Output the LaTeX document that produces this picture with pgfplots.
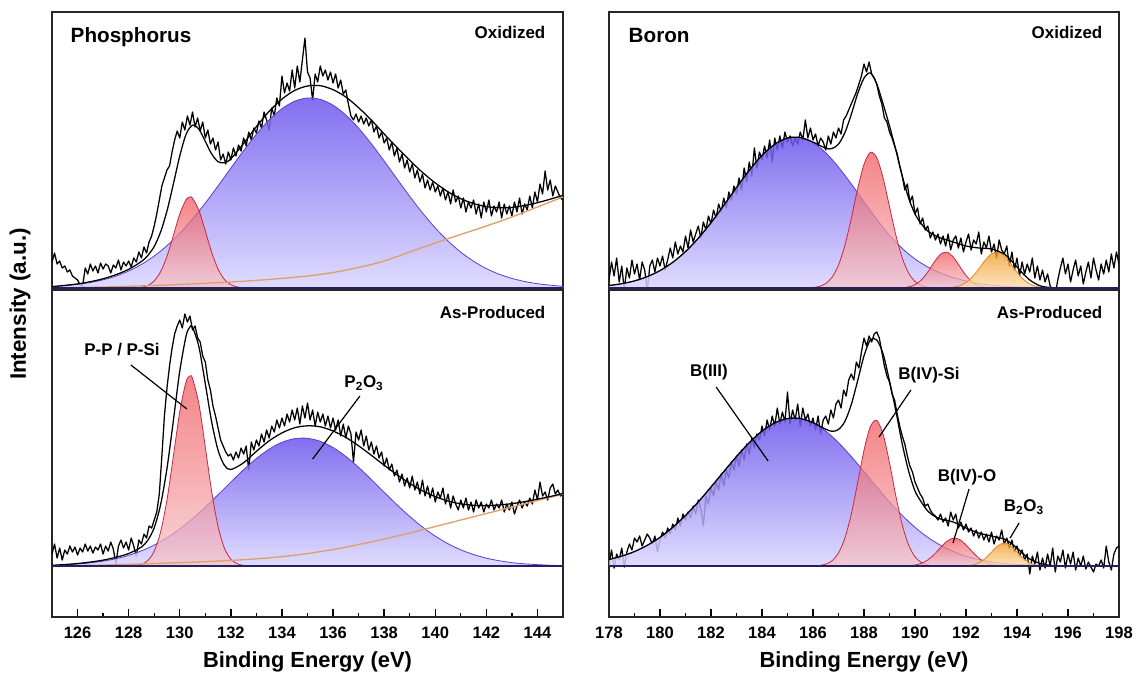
\documentclass[border=0pt]{standalone}
\usepackage{pgfplots}
\pgfplotsset{compat=1.18}
\usepackage{fontspec}
\setmainfont{Liberation Sans}
\definecolor{blueTop}{RGB}{108,86,236}
\definecolor{blueBot}{RGB}{218,214,255}
\definecolor{blueLine}{RGB}{90,60,210}
\definecolor{redTop}{RGB}{240,84,88}
\definecolor{redBot}{RGB}{246,196,200}
\definecolor{redLine}{RGB}{200,40,68}
\definecolor{orTop}{RGB}{242,158,45}
\definecolor{orBot}{RGB}{250,222,175}
\definecolor{orLine}{RGB}{222,136,40}
\definecolor{bgLine}{RGB}{222,160,105}
\definecolor{baseCol}{RGB}{38,30,95}
\pgfplotsset{
  xpsbase/.style={
    scale only axis,
    axis line style={line width=1pt, black!85},
    ticklabel style={font=\bfseries\fontsize{12.4}{14}\selectfont},
    xticklabel style={yshift=-4pt},
    /pgf/number format/assume math mode=true,
    ytick=\empty,
  },
  toppanel/.style={xpsbase, height=208.5pt, ymin=-2, ymax=276, xtick=\empty},
  botpanel/.style={xpsbase, height=245.25pt, ymin=-51, ymax=276, xtick pos=left,
    major tick length=6pt, minor tick length=3pt, minor x tick num=1,
    tick style={line width=1pt, black},
    xlabel style={font=\bfseries\fontsize{16.4}{19}\selectfont, at={(axis description cs:0.5,0)}, anchor=base, yshift=-37.5pt}},
  dat/.style={black, line width=0.95pt, line join=round},
  env/.style={black, line width=0.95pt, smooth},
  bgl/.style={bgLine, line width=1pt, smooth},
  cblue/.style={smooth, draw=blueLine, line width=0.6pt, top color=blueTop, bottom color=blueBot, fill opacity=0.85},
  cred/.style={smooth, draw=redLine, line width=0.6pt, top color=redTop, bottom color=redBot, fill opacity=0.72},
  cor/.style={smooth, draw=orLine, line width=0.6pt, top color=orTop, bottom color=orBot, fill opacity=0.8},
  basel/.style={baseCol, line width=1.6pt},
}
\newcommand{\lab}{\bfseries\fontsize{12.7}{15}\selectfont}
\begin{document}
\begin{tikzpicture}
\useasboundingbox (0,0) rectangle (852pt,-504.75pt);
% ================= Phosphorus oxidized =================
\begin{axis}[toppanel, at={(39pt,-9pt)}, anchor=north west, width=383.25pt, xmin=125, xmax=145]
\addplot[dat] coordinates {
(125.0,26)(125.1,35)(125.2,24)(125.3,27)(125.4,20)(125.5,22)(125.6,16)(125.7,18)(125.8,12)(125.9,10)
(126.0,8)(126.1,3)(126.2,2)(126.3,20)(126.4,14)(126.5,24)(126.6,17)(126.7,22)(126.8,15)(126.9,25)
(127.0,19)(127.1,24)(127.2,22)(127.3,15)(127.4,23)(127.5,20)(127.6,28)(127.7,18)(127.8,26)(127.9,22)
(128.0,27)(128.1,21)(128.2,30)(128.3,26)(128.4,36)(128.5,30)(128.6,41)(128.7,35)(128.8,46)(128.9,52)
(129.0,62)(129.1,74)(129.2,88)(129.3,102)(129.4,110)(129.5,118)(129.6,122)(129.7,136)(129.8,148)(129.9,157)
(130.0,150)(130.1,166)(130.2,158)(130.3,172)(130.4,163)(130.5,176)(130.6,161)(130.7,170)(130.8,157)(130.9,166)
(131.0,150)(131.1,158)(131.2,144)(131.3,150)(131.4,138)(131.5,146)(131.6,128)(131.7,134)(131.8,124)(131.9,136)
(132.0,128)(132.1,140)(132.2,132)(132.3,143)(132.4,137)(132.5,150)(132.6,142)(132.7,156)(132.8,148)(132.9,160)
(133.0,155)(133.1,167)(133.2,160)(133.3,176)(133.4,168)(133.5,158)(133.6,180)(133.7,172)(133.8,190)(133.9,182)
(134.0,212)(134.1,195)(134.2,205)(134.3,197)(134.4,218)(134.5,200)(134.6,222)(134.7,206)(134.8,228)(134.9,250)
(135.0,216)(135.1,210)(135.2,188)(135.3,214)(135.4,206)(135.5,222)(135.6,212)(135.7,218)(135.8,208)(135.9,216)
(136.0,205)(136.1,214)(136.2,200)(136.3,208)(136.4,194)(136.5,198)(136.6,184)(136.7,172)(136.8,168)(136.9,174)
(137.0,166)(137.1,172)(137.2,164)(137.3,170)(137.4,162)(137.5,168)(137.6,156)(137.7,162)(137.8,150)(137.9,156)
(138.0,145)(138.1,150)(138.2,138)(138.3,146)(138.4,132)(138.5,140)(138.6,126)(138.7,134)(138.8,120)(138.9,128)
(139.0,116)(139.1,124)(139.2,110)(139.3,118)(139.4,106)(139.5,114)(139.6,100)(139.7,108)(139.8,98)(139.9,106)
(140.0,96)(140.1,102)(140.2,92)(140.3,100)(140.4,88)(140.5,96)(140.6,84)(140.7,98)(140.8,86)(140.9,92)
(141.0,80)(141.1,90)(141.2,76)(141.3,86)(141.4,80)(141.5,88)(141.6,74)(141.7,84)(141.8,70)(141.9,86)
(142.0,76)(142.1,88)(142.2,72)(142.3,82)(142.4,76)(142.5,86)(142.6,70)(142.7,84)(142.8,74)(142.9,82)
(143.0,72)(143.1,86)(143.2,76)(143.3,90)(143.4,74)(143.5,84)(143.6,78)(143.7,92)(143.8,80)(143.9,96)
(144.0,86)(144.1,104)(144.2,94)(144.3,117)(144.4,98)(144.5,108)(144.6,92)(144.7,102)(144.8,96)(144.9,90)(145.0,88)};
\addplot[cblue] coordinates {(125,1.4)(125.5,2.3)(126,3.6)(126.5,5.5)(127,8.2)(127.5,11.9)(128,17)(128.5,23.6)(129,31.9)(129.5,42.3)(130,54.6)(130.5,68.9)(131,84.9)(131.5,102.1)(132,119.9)(132.5,137.4)(133,153.8)(133.5,168.1)(134,179.3)(134.5,186.8)(135,190)(135.5,188.6)(136,182.8)(136.5,173)(137,159.8)(137.5,144.2)(138,127)(138.5,109.2)(139,91.7)(139.5,75.1)(140,60.1)(140.5,47)(141,35.8)(141.5,26.7)(142,19.4)(142.5,13.8)(143,9.6)(143.5,6.5)(144,4.3)(144.5,2.8)(145,1.7)} \closedcycle;
\addplot[cred] coordinates {(128,0)(128.25,0.2)(128.5,0.8)(128.75,2.6)(129,7.1)(129.25,16.3)(129.5,31.7)(129.75,52.5)(130,73.9)(130.25,88.4)(130.4,91)(130.5,89.8)(130.75,77.6)(131,57)(131.25,35.6)(131.5,18.9)(131.75,8.5)(132,3.3)(132.25,1.1)(132.5,0.3)(133,0)} \closedcycle;
\addplot[bgl] coordinates {(125,0)(126,0.5)(127,1)(128,1.7)(129,2.5)(130,3.5)(131,4.7)(132,6)(133,7.6)(134,9.6)(135,12)(136,15.5)(137,20.5)(138,27)(139,36)(140,45)(141,53.5)(142,62)(143,71)(144,81)(145,91)};
\addplot[env] coordinates {(125,1.4)(125.5,2.6)(126,4.1)(126.5,6.3)(127,9.2)(127.5,13.3)(128,18.7)(128.5,26.5)(128.75,32.5)(129,41.5)(129.25,56)(129.5,77)(129.75,104)(130,132)(130.25,153.8)(130.5,162.8)(130.75,158.8)(131,146.6)(131.25,134)(131.5,126.3)(131.75,125.2)(132,129.2)(132.5,144.5)(133,161.4)(133.5,176.7)(134,188.9)(134.5,197.6)(135,202)(135.5,202.3)(136,198.3)(136.5,191)(137,180.3)(137.5,167.9)(138,154)(138.5,140.7)(139,127.7)(139.5,115.6)(140,105.1)(140.5,96.2)(141,89.3)(141.5,84.4)(142,81.4)(142.5,80.3)(143,80.6)(143.5,82.5)(144,85.3)(144.5,88.8)(145,92.7)};
\addplot[basel] coordinates {(125,0)(145,0)};
\node[anchor=base west, font=\bfseries\fontsize{15.5}{18}\selectfont] at (axis description cs:0.0274,0.892) {Phosphorus};
\node[anchor=base east, font=\lab] at (axis description cs:0.9746,0.903) {Oxidized};
\end{axis}
% ================= Phosphorus as-produced =================
\begin{axis}[botpanel, at={(39pt,-217.5pt)}, anchor=north west, width=383.25pt, xmin=125, xmax=145,
  xtick={126,128,...,144}, xlabel={Binding Energy (eV)}]
\addplot[dat] coordinates {
(125.0,12)(125.1,22)(125.2,8)(125.3,18)(125.4,6)(125.5,16)(125.6,12)(125.7,20)(125.8,14)(125.9,19)
(126.0,11)(126.1,18)(126.2,14)(126.3,22)(126.4,15)(126.5,20)(126.6,13)(126.7,19)(126.8,16)(126.9,22)
(127.0,12)(127.1,20)(127.2,15)(127.3,24)(127.4,17)(127.5,2)(127.6,20)(127.7,26)(127.8,18)(127.9,24)
(128.0,16)(128.1,28)(128.2,20)(128.3,10)(128.4,26)(128.5,22)(128.6,32)(128.7,28)(128.8,40)(128.9,38)
(129.0,46)(129.1,54)(129.2,72)(129.3,110)(129.4,150)(129.5,178)(129.6,200)(129.7,218)(129.8,232)(129.9,240)
(130.0,246)(130.1,238)(130.2,252)(130.3,244)(130.4,250)(130.5,236)(130.6,240)(130.7,228)(130.8,224)(130.9,210)
(131.0,204)(131.1,186)(131.2,176)(131.3,160)(131.4,150)(131.5,138)(131.6,126)(131.7,120)(131.8,114)(131.9,110)
(132.0,112)(132.1,106)(132.2,114)(132.3,108)(132.4,118)(132.5,112)(132.6,120)(132.7,96)(132.8,124)(132.9,116)
(133.0,126)(133.1,120)(133.2,132)(133.3,124)(133.4,136)(133.5,128)(133.6,140)(133.7,134)(133.8,146)(133.9,138)
(134.0,148)(134.1,140)(134.2,152)(134.3,144)(134.4,156)(134.5,146)(134.6,158)(134.7,142)(134.8,160)(134.9,148)
(135.0,163)(135.1,146)(135.2,156)(135.3,140)(135.4,154)(135.5,144)(135.6,152)(135.7,140)(135.8,150)(135.9,138)
(136.0,148)(136.1,136)(136.2,146)(136.3,130)(136.4,142)(136.5,128)(136.6,140)(136.7,132)(136.8,104)(136.9,134)
(137.0,126)(137.1,136)(137.2,120)(137.3,130)(137.4,116)(137.5,124)(137.6,112)(137.7,120)(137.8,108)(137.9,114)
(138.0,100)(138.1,108)(138.2,96)(138.3,102)(138.4,90)(138.5,96)(138.6,84)(138.7,92)(138.8,80)(138.9,88)
(139.0,78)(139.1,90)(139.2,76)(139.3,84)(139.4,72)(139.5,86)(139.6,70)(139.7,80)(139.8,68)(139.9,78)
(140.0,64)(140.1,74)(140.2,68)(140.3,78)(140.4,62)(140.5,72)(140.6,58)(140.7,70)(140.8,62)(140.9,56)
(141.0,66)(141.1,58)(141.2,68)(141.3,56)(141.4,64)(141.5,54)(141.6,66)(141.7,58)(141.8,64)(141.9,54)
(142.0,62)(142.1,58)(142.2,66)(142.3,56)(142.4,62)(142.5,58)(142.6,66)(142.7,54)(142.8,62)(142.9,56)
(143.0,64)(143.1,52)(143.2,60)(143.3,66)(143.4,58)(143.5,64)(143.6,60)(143.7,68)(143.8,62)(143.9,76)
(144.0,66)(144.1,84)(144.2,70)(144.3,74)(144.4,66)(144.5,78)(144.6,82)(144.7,72)(144.8,76)(144.9,70)(145.0,72)};
\addplot[cblue] coordinates {(125,0.7)(125.5,1.2)(126,2)(126.5,3.2)(127,4.9)(127.5,7.3)(128,10.7)(128.5,15.2)(129,21)(129.5,28.3)(130,37.1)(130.5,47.4)(131,58.9)(131.5,71.3)(132,84)(132.5,96.3)(133,107.5)(133.5,116.9)(134,123.7)(134.5,127.4)(135,127.7)(135.5,124.7)(136,118.5)(136.5,109.6)(137,98.7)(137.5,86.5)(138,73.8)(138.5,61.3)(139,49.6)(139.5,39)(140,29.9)(140.5,22.3)(141,16.2)(141.5,11.5)(142,7.9)(142.5,5.3)(143,3.4)(143.5,2.2)(144,1.4)(144.5,0.8)(145,0.5)} \closedcycle;
\addplot[cred] coordinates {(128,0.1)(128.25,0.5)(128.5,1.7)(128.75,5.5)(129,14.8)(129.25,34)(129.5,66.2)(129.75,109.6)(130,154.3)(130.25,184.6)(130.4,190)(130.5,187.5)(130.75,162)(131,119)(131.25,74.3)(131.5,39.5)(131.75,17.7)(132,6.9)(132.25,2.3)(132.5,0.6)(132.75,0.2)(133,0)} \closedcycle;
\addplot[bgl] coordinates {(125,0)(126,0.5)(127,1)(128,1.7)(129,2.5)(130,3.4)(131,4.4)(132,5.6)(133,7.2)(134,9.4)(135,12.5)(136,16.5)(137,21.5)(138,27)(139,33)(140,39.5)(141,46)(142,52.5)(143,59)(144,65.5)(145,72)};
\addplot[env] coordinates {(125,0.7)(125.5,1.5)(126,2.5)(126.5,4)(127,5.9)(127.5,8.7)(128,12.5)(128.5,19)(128.75,25.8)(129,38.3)(129.25,61.3)(129.5,97.5)(129.75,145.4)(130,194.8)(130.25,230.3)(130.4,239.1)(130.5,238.8)(130.75,219.2)(131,182.3)(131.25,144)(131.5,115.8)(131.75,100.6)(132,96.5)(132.5,103.3)(133,114.7)(133.5,125.2)(134,133.1)(134.5,138.3)(135,140.2)(135.5,139.2)(136,135)(136.5,128.6)(137,120.2)(137.5,110.7)(138,100.8)(138.5,91.3)(139,82.6)(139.5,75.2)(140,69.4)(140.5,65)(141,62.2)(141.5,60.7)(142,60.4)(142.5,61)(143,62.4)(143.5,64.4)(144,66.9)(144.5,69.5)(145,72.5)};
\addplot[basel] coordinates {(125,0)(145,0)};
\node[anchor=base east, font=\lab] at (axis description cs:0.9746,0.914) {As-Produced};
\node[font=\lab] at (axis cs:127.74,216) {P-P / P-Si};
\draw[line width=0.9pt] (axis cs:128.09,201) -- (axis cs:130.28,157);
\node[font=\lab] at (axis cs:137.21,183) {P\textsubscript{2}O\textsubscript{3}};
\draw[line width=0.9pt] (axis cs:137.05,170) -- (axis cs:135.2,107);
\end{axis}
% ================= Boron oxidized =================
\begin{axis}[toppanel, at={(456.75pt,-9pt)}, anchor=north west, width=382.5pt, xmin=178, xmax=198]
\addplot[dat] coordinates {
(178.0,8)(178.1,26)(178.2,12)(178.3,30)(178.4,6)(178.5,22)(178.6,-2)(178.7,20)(178.8,10)(178.9,28)
(179.0,14)(179.1,24)(179.2,8)(179.3,26)(179.4,18)(179.5,-3)(179.6,22)(179.7,28)(179.8,16)(179.9,30)
(180.0,22)(180.1,32)(180.2,18)(180.3,28)(180.4,40)(180.5,30)(180.6,46)(180.7,34)(180.8,42)(180.9,36)
(181.0,52)(181.1,40)(181.2,58)(181.3,46)(181.4,54)(181.5,62)(181.6,50)(181.7,66)(181.8,58)(181.9,72)
(182.0,64)(182.1,78)(182.2,70)(182.3,84)(182.4,76)(182.5,90)(182.6,80)(182.7,96)(182.8,88)(182.9,102)
(183.0,94)(183.1,110)(183.2,98)(183.3,120)(183.4,106)(183.5,126)(183.6,112)(183.7,140)(183.8,120)(183.9,136)
(184.0,128)(184.1,142)(184.2,130)(184.3,148)(184.4,126)(184.5,150)(184.6,138)(184.7,152)(184.8,140)(184.9,156)
(185.0,146)(185.1,152)(185.2,142)(185.3,150)(185.4,144)(185.5,156)(185.6,148)(185.7,168)(185.8,150)(185.9,160)
(186.0,148)(186.1,154)(186.2,142)(186.3,150)(186.4,146)(186.5,138)(186.6,152)(186.7,144)(186.8,156)(186.9,150)
(187.0,160)(187.1,154)(187.2,168)(187.3,172)(187.4,178)(187.5,184)(187.6,190)(187.7,196)(187.8,204)(187.9,212)
(188.0,224)(188.1,216)(188.2,226)(188.3,214)(188.4,210)(188.5,204)(188.6,192)(188.7,184)(188.8,170)(188.9,166)
(189.0,156)(189.1,150)(189.2,142)(189.3,134)(189.4,122)(189.5,112)(189.6,98)(189.7,104)(189.8,86)(189.9,92)
(190.0,74)(190.1,80)(190.2,64)(190.3,70)(190.4,58)(190.5,62)(190.6,50)(190.7,56)(190.8,48)(190.9,54)
(191.0,44)(191.1,52)(191.2,42)(191.3,54)(191.4,38)(191.5,48)(191.6,52)(191.7,40)(191.8,50)(191.9,36)
(192.0,46)(192.1,54)(192.2,38)(192.3,48)(192.4,44)(192.5,56)(192.6,34)(192.7,46)(192.8,40)(192.9,52)
(193.0,36)(193.1,44)(193.2,30)(193.3,48)(193.4,38)(193.5,34)(193.6,42)(193.7,22)(193.8,36)(193.9,18)
(194.0,30)(194.1,12)(194.2,26)(194.3,14)(194.4,24)(194.5,16)(194.6,30)(194.7,10)(194.8,22)(194.9,8)
(195.0,18)(195.1,6)(195.2,14)(195.3,2)(195.4,-2)(195.5,-6)(195.6,8)(195.7,20)(195.8,30)(195.9,14)
(196.0,24)(196.1,6)(196.2,18)(196.3,28)(196.4,12)(196.5,22)(196.6,4)(196.7,16)(196.8,26)(196.9,10)
(197.0,30)(197.1,18)(197.2,8)(197.3,24)(197.4,14)(197.5,28)(197.6,16)(197.7,34)(197.8,20)(197.9,36)(198.0,24)};
\addplot[cblue] coordinates {(178,2.5)(178.5,4.3)(179,7.1)(179.5,11.4)(180,17.4)(180.5,25.7)(181,36.4)(181.5,49.7)(182,65.3)(182.5,82.6)(183,100.5)(183.5,117.7)(184,132.6)(184.5,143.7)(185,150)(185.5,150.5)(186,145.4)(186.5,135.2)(187,120.9)(187.5,104.1)(188,86.2)(188.5,68.7)(189,52.7)(189.5,39.5)(190,29)(190.5,21)(191,15)(191.5,10.5)(192,7)(192.5,4.5)(193,2.8)(193.5,1.7)(194,1)(194.5,0.5)(195,0.2)(195.5,0)} \closedcycle;
\addplot[cred] coordinates {(185.5,0)(185.75,0.15)(186,0.5)(186.25,1.6)(186.5,4.5)(186.75,10.9)(187,23)(187.25,42.7)(187.5,69.4)(187.75,99)(188,123.7)(188.25,135.6)(188.5,130.4)(188.75,109.9)(189,81.3)(189.25,52.7)(189.5,30)(189.75,14.9)(190,6.5)(190.25,2.5)(190.5,0.8)(190.75,0.25)(191,0)} \closedcycle;
\addplot[cred] coordinates {(189.5,0.3)(189.75,1.1)(190,3.3)(190.25,8.1)(190.5,16)(190.75,25.8)(191,33.7)(191.25,35.9)(191.5,31)(191.75,21.8)(192,12.5)(192.25,5.8)(192.5,2.2)(192.75,0.7)(193,0)} \closedcycle;
\addplot[cor] coordinates {(191,0)(191.25,0.26)(191.5,0.84)(191.75,2.3)(192,5.5)(192.25,11.1)(192.5,19)(192.75,27.7)(193,34.2)(193.25,35.9)(193.5,32)(193.75,24.3)(194,15.7)(194.25,8.6)(194.5,4)(194.75,1.6)(195,0.5)(195.25,0)} \closedcycle;
\addplot[env] coordinates {(178,2.5)(178.5,4.3)(179,7.1)(179.5,11.4)(180,17.4)(180.5,25.7)(181,36.4)(181.5,49.7)(182,65.3)(182.5,82.6)(183,100.5)(183.5,117.7)(184,132.6)(184.5,143.7)(185,150)(185.5,150.5)(186,145.9)(186.5,139.7)(186.75,139.5)(187,143.9)(187.25,155.3)(187.5,173.5)(187.75,194.2)(188,209.9)(188.25,215)(188.5,204)(188.75,184)(189,162)(189.25,138)(189.5,112)(189.75,90)(190,74)(190.25,64)(190.5,57)(190.75,53)(191,50)(191.5,46)(192,42)(192.5,40)(193,39)(193.5,34)(193.75,28)(194,21)(194.25,14)(194.5,8)(194.75,4)(195,1.5)(195.5,0)(196,0)};
\addplot[basel] coordinates {(178,0)(198,0)};
\node[anchor=base west, font=\bfseries\fontsize{15.5}{18}\selectfont] at (axis description cs:0.0294,0.892) {Boron};
\node[anchor=base east, font=\lab] at (axis description cs:0.9765,0.903) {Oxidized};
\end{axis}
% ================= Boron as-produced =================
\begin{axis}[botpanel, at={(456.75pt,-217.5pt)}, anchor=north west, width=382.5pt, xmin=178, xmax=198,
  xtick={178,180,...,198}, xlabel={Binding Energy (eV)}]
\addplot[dat] coordinates {
(178.0,2)(178.1,16)(178.2,-2)(178.3,12)(178.4,6)(178.5,18)(178.6,-1)(178.7,14)(178.8,22)(178.9,16)
(179.0,28)(179.1,24)(179.2,30)(179.3,20)(179.4,26)(179.5,32)(179.6,28)(179.7,22)(179.8,30)(179.9,14)
(180.0,26)(180.1,34)(180.2,28)(180.3,38)(180.4,32)(180.5,42)(180.6,36)(180.7,48)(180.8,40)(180.9,52)
(181.0,46)(181.1,54)(181.2,48)(181.3,60)(181.4,52)(181.5,66)(181.6,58)(181.7,40)(181.8,70)(181.9,62)
(182.0,78)(182.1,70)(182.2,84)(182.3,76)(182.4,92)(182.5,80)(182.6,96)(182.7,88)(182.8,104)(182.9,96)
(183.0,110)(183.1,100)(183.2,116)(183.3,106)(183.4,122)(183.5,112)(183.6,128)(183.7,118)(183.8,132)(183.9,126)
(184.0,140)(184.1,130)(184.2,146)(184.3,136)(184.4,150)(184.5,140)(184.6,158)(184.7,142)(184.8,154)(184.9,144)
(185.0,174)(185.1,142)(185.2,156)(185.3,146)(185.4,162)(185.5,140)(185.6,158)(185.7,146)(185.8,152)(185.9,140)
(186.0,148)(186.1,136)(186.2,150)(186.3,132)(186.4,146)(186.5,150)(186.6,142)(186.7,156)(186.8,148)(186.9,162)
(187.0,166)(187.1,158)(187.2,176)(187.3,170)(187.4,186)(187.5,192)(187.6,186)(187.7,204)(187.8,198)(187.9,214)
(188.0,228)(188.1,220)(188.2,230)(188.3,224)(188.4,232)(188.5,234)(188.6,228)(188.7,214)(188.8,200)(188.9,190)
(189.0,184)(189.1,172)(189.2,166)(189.3,152)(189.4,140)(189.5,130)(189.6,122)(189.7,110)(189.8,100)(189.9,94)
(190.0,84)(190.1,78)(190.2,72)(190.3,68)(190.4,60)(190.5,62)(190.6,56)(190.7,52)(190.8,50)(190.9,46)
(191.0,52)(191.1,44)(191.2,48)(191.3,40)(191.4,54)(191.5,46)(191.6,52)(191.7,38)(191.8,44)(191.9,36)
(192.0,42)(192.1,34)(192.2,38)(192.3,30)(192.4,36)(192.5,28)(192.6,34)(192.7,26)(192.8,32)(192.9,24)
(193.0,34)(193.1,22)(193.2,30)(193.3,26)(193.4,36)(193.5,22)(193.6,28)(193.7,18)(193.8,26)(193.9,14)
(194.0,20)(194.1,10)(194.2,16)(194.3,6)(194.4,12)(194.5,-8)(194.6,10)(194.7,2)(194.8,14)(194.9,-4)
(195.0,8)(195.1,-2)(195.2,12)(195.3,0)(195.4,18)(195.5,-6)(195.6,10)(195.7,4)(195.8,16)(195.9,-2)
(196.0,12)(196.1,2)(196.2,14)(196.3,-4)(196.4,8)(196.5,0)(196.6,10)(196.7,-3)(196.8,4)(196.9,-1)
(197.0,-6)(197.1,2)(197.2,0)(197.3,6)(197.4,-2)(197.5,20)(197.6,4)(197.7,-4)(197.8,12)(197.9,18)(198.0,20)};
\addplot[cblue] coordinates {(178,6.5)(178.5,9.9)(179,14.5)(179.5,20.7)(180,28.7)(180.5,38.7)(181,50.6)(181.5,64.1)(182,79)(182.5,94.4)(183,109.5)(183.5,123.4)(184,134.9)(184.5,143.1)(185,147.5)(185.5,147.5)(186,143.1)(186.5,134.9)(187,123.4)(187.5,109.5)(188,94.4)(188.5,79)(189,64.1)(189.5,50.6)(190,38.7)(190.5,28.7)(191,20.7)(191.5,14.5)(192,9.9)(192.5,6.5)(193,4.2)(193.5,2.6)(194,1.6)(194.5,0.9)(195,0.5)(195.5,0.3)(196,0)} \closedcycle;
\addplot[cred] coordinates {(185.75,0)(186,0.15)(186.25,0.56)(186.5,1.9)(186.75,5.3)(187,13.1)(187.25,28)(187.5,51.8)(187.75,83.2)(188,115.7)(188.25,139.4)(188.5,145.6)(188.75,131.7)(189,103.2)(189.25,70)(189.5,41.2)(189.75,21)(190,9.3)(190.25,3.5)(190.5,1.2)(190.75,0.34)(191,0)} \closedcycle;
\addplot[cred] coordinates {(189.5,0)(189.75,0.3)(190,1)(190.25,2.7)(190.5,6.1)(190.75,11.5)(191,18.4)(191.25,24.7)(191.5,27.9)(191.75,26.5)(192,21.1)(192.25,14.2)(192.5,8)(192.75,3.8)(193,1.5)(193.25,0.5)(193.5,0)} \closedcycle;
\addplot[cor] coordinates {(191.75,0)(192,0.26)(192.25,1)(192.5,3.1)(192.75,7.5)(193,13.9)(193.25,20.3)(193.5,23)(193.75,20.3)(194,13.9)(194.25,7.5)(194.5,3.1)(194.75,1)(195,0.26)(195.25,0)} \closedcycle;
\addplot[env] coordinates {(178,6.5)(178.5,9.9)(179,14.5)(179.5,20.7)(180,28.7)(180.5,38.7)(181,50.6)(181.5,64.1)(182,79)(182.5,94.4)(183,109.5)(183.5,123.4)(184,134.9)(184.5,143.1)(185,147.5)(185.5,147.5)(186,143.3)(186.5,136.8)(186.75,134.7)(187,136.5)(187.25,144.6)(187.5,161.3)(187.75,185.2)(188,210.1)(188.25,226.1)(188.5,226)(188.75,212)(189,185)(189.25,155)(189.5,122)(189.75,95)(190,75)(190.25,64)(190.5,55)(190.75,50)(191,47)(191.5,44)(192,38)(192.5,33)(193,30)(193.5,27)(193.75,23)(194,18)(194.25,12)(194.5,7)(194.75,4)(195,2)(195.5,0)(196,0)};
\addplot[basel] coordinates {(178,0)(198,0)};
\node[anchor=base east, font=\lab] at (axis description cs:0.9765,0.914) {As-Produced};
\node[font=\lab] at (axis cs:181.92,194) {B(III)};
\draw[line width=0.9pt] (axis cs:182.2,179) -- (axis cs:184.24,105);
\node[font=\lab] at (axis cs:190.55,191) {B(IV)-Si};
\draw[line width=0.9pt] (axis cs:189.84,176) -- (axis cs:188.59,129);
\node[font=\lab] at (axis cs:192.04,89) {B(IV)-O};
\draw[line width=0.9pt] (axis cs:192.12,77) -- (axis cs:191.49,23);
\node[font=\lab] at (axis cs:194.27,59) {B\textsubscript{2}O\textsubscript{3}};
\draw[line width=0.9pt] (axis cs:194.08,43) -- (axis cs:193.73,28);
\end{axis}
\node[rotate=90, font=\bfseries\fontsize{16.8}{20}\selectfont] at (15pt,-228pt) {Intensity (a.u.)};
\end{tikzpicture}
\end{document}
